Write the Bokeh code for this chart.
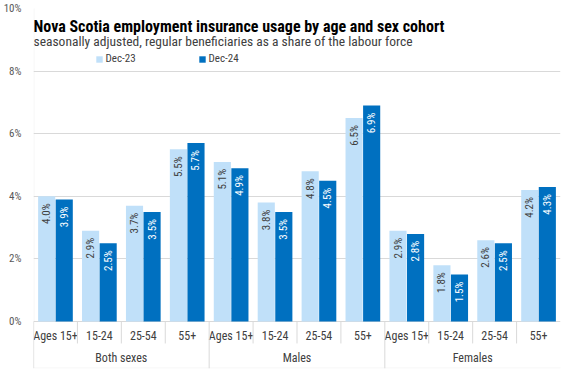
import numpy as np
from bokeh.plotting import figure
from bokeh.models import (Range1d, FixedTicker, PrintfTickFormatter, ColumnDataSource,
                          Label, Legend, LegendItem, BoxAnnotation)
from bokeh.core.properties import value
from bokeh.embed import file_html
from bokeh.resources import INLINE

# ---- data ----
groups = ["Both sexes", "Males", "Females"]
ages = ["Ages 15+", "15-24", "25-54", "55+"]
dec23 = [4.0, 2.9, 3.7, 5.5, 5.1, 3.8, 4.8, 6.5, 2.9, 1.8, 2.6, 4.2]
dec24 = [3.9, 2.5, 3.5, 5.7, 4.9, 3.5, 4.5, 6.9, 2.8, 1.5, 2.5, 4.3]
series_names = ["Dec-23", "Dec-24"]
y_ticks = [0, 2, 4, 6, 8, 10]

title_text = "Nova Scotia employment insurance usage by age and sex cohort"
subtitle_text = "seasonally adjusted, regular beneficiaries as a share of the labour force"

# ---- style ----
FONT = "'Roboto Condensed', 'Liberation Sans Narrow', Roboto"
LIGHT = "#C0E0F9"
DARK = "#0070C0"
GRID = "#D9D9D9"
TXT = "#404040"

W, H = 561, 369
n = len(dec23)
cats = [a for g in groups for a in ages]
xc = np.arange(n) + 0.5

p = figure(width=W, height=H, output_backend="svg", toolbar_location=None,
           x_range=Range1d(0, n), y_range=Range1d(-1.5, 10),
           x_axis_location=None,
           min_border_left=33, min_border_right=1, min_border_top=8, min_border_bottom=1)
p.outline_line_color = None
p.xgrid.visible = False
p.ygrid.ticker = FixedTicker(ticks=y_ticks)
p.ygrid.grid_line_color = GRID
p.yaxis.ticker = FixedTicker(ticks=y_ticks)
p.yaxis.formatter = PrintfTickFormatter(format="%d%%")
p.yaxis.axis_line_color = None
p.yaxis.major_tick_line_color = None
p.yaxis.minor_tick_line_color = None
p.yaxis.major_tick_out = 0
p.yaxis.major_tick_in = 0
p.yaxis.minor_tick_out = 0
p.yaxis.major_label_standoff = 12
p.yaxis.major_label_text_font = FONT
p.yaxis.major_label_text_font_size = "11px"
p.yaxis.major_label_text_color = "#595959"

# chart border around the whole canvas (screen units)
p.add_layout(BoxAnnotation(left=0.5, right=W - 0.5, top=0.5, bottom=H - 0.5,
                           left_units="screen", right_units="screen",
                           top_units="screen", bottom_units="screen",
                           fill_alpha=0, line_color=GRID, line_width=1, level="overlay"))

off = 0.2
bw = 0.39
src = ColumnDataSource(dict(
    x1=xc - off, x2=xc + off, v1=dec23, v2=dec24,
    l1=[f"{v:.1f}%" for v in dec23], l2=[f"{v:.1f}%" for v in dec24]))

r1 = p.vbar(x="x1", top="v1", width=bw, source=src, fill_color=LIGHT, line_color=None)
r2 = p.vbar(x="x2", top="v2", width=bw, source=src, fill_color=DARK, line_color=None)

common = dict(angle=np.pi / 2, text_align="right", text_baseline="middle",
              y_offset=7, text_font=value(FONT), text_font_size="11px")
p.text(x="x1", y="v1", text="l1", source=src, text_color=TXT, **common)
p.text(x="x2", y="v2", text="l2", source=src, text_color="white", **common)

# category labels and separators
p.text(x=list(xc), y=[-0.455] * n, text=cats, text_align="center", text_baseline="middle",
       text_font=value(FONT), text_font_size="12px", text_color=TXT)
gx = [len(ages) * (i + 0.5) for i in range(len(groups))]
p.text(x=gx, y=[-1.156] * len(groups), text=groups, text_align="center",
       text_baseline="middle", text_font=value(FONT), text_font_size="12px", text_color=TXT)

short_x = [i for i in range(n) if i % len(ages) != 0]
long_x = [i for i in range(n) if i % len(ages) == 0]
p.segment(x0=short_x, y0=[0] * len(short_x), x1=short_x, y1=[-0.70] * len(short_x),
          line_color=GRID, line_width=1)
p.segment(x0=long_x, y0=[0] * len(long_x), x1=long_x, y1=[-1.5] * len(long_x),
          line_color=GRID, line_width=1)

# title / subtitle
p.add_layout(Label(x=0, y=9.42, text=title_text, text_font=FONT, text_font_size="16px",
                   text_font_style="bold", text_color="#000000", text_baseline="alphabetic"))
p.add_layout(Label(x=0, y=8.95, text=subtitle_text, text_font=FONT, text_font_size="13.5px",
                   text_color=TXT, text_baseline="alphabetic"))

legend = Legend(items=[LegendItem(label=series_names[0], renderers=[r1]),
                       LegendItem(label=series_names[1], renderers=[r2])],
                orientation="horizontal", location=(61.5, 303),
                glyph_width=8, glyph_height=8, label_height=12, label_width=91,
                label_standoff=3, spacing=1, padding=0, margin=0,
                border_line_color=None, background_fill_alpha=0,
                label_text_font=FONT, label_text_font_size="11px", label_text_color=TXT)
p.add_layout(legend)

open("out.html", "w").write(file_html(p, INLINE))
